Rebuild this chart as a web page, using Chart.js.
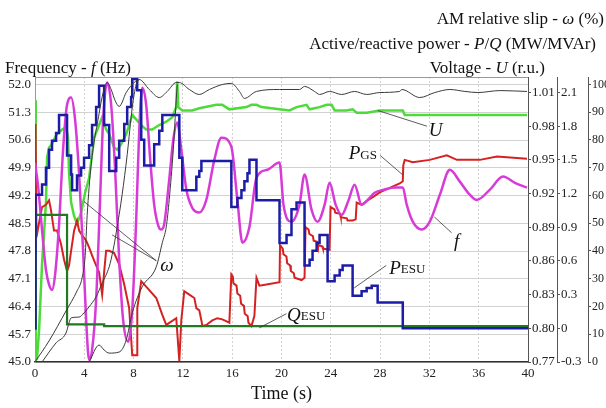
<!DOCTYPE html>
<html>
<head>
<meta charset="utf-8">
<script src="https://cdn.jsdelivr.net/npm/chart.js@4.4.1/dist/chart.umd.min.js"></script>
<style>
  html, body { margin: 0; padding: 0; background: #fff; }
  #wrap { width: 606px; height: 408px; }
</style>
</head>
<body>
<div id="wrap"><canvas id="chart" width="606" height="408"></canvas></div>
<script>
// tick labels
const timeTicks = [0, 4, 8, 12, 16, 20, 24, 28, 32, 36, 40];
const freqTicks = [45.0, 45.7, 46.4, 47.1, 47.8, 48.5, 49.2, 49.9, 50.6, 51.3, 52.0];
const voltTicks = [0.77, 0.80, 0.83, 0.86, 0.89, 0.92, 0.95, 0.98, 1.01];
const pqTicks = [-0.3, 0, 0.3, 0.6, 0.9, 1.2, 1.5, 1.8, 2.1];
const slipTicks = [0, 10, 20, 30, 40, 50, 60, 70, 80, 90, 100];

// frequency f (Hz)
const fTime = [0, 0.24, 0.57, 0.89, 1.14, 1.38, 1.63, 1.95, 2.28, 2.60, 2.93, 3.25, 3.58, 3.90, 4.15, 4.39, 4.63, 4.96, 5.28, 5.53,
  5.85, 6.18, 6.50, 6.83, 7.15, 7.56, 7.89, 8.21, 8.46, 8.70, 9.02, 9.35, 9.67, 10.0, 10.24, 10.49, 10.89, 11.22, 11.54, 11.87,
  12.28, 12.76, 13.33, 13.90, 14.55, 15.12, 15.93, 16.42, 16.83, 17.40, 17.97, 18.86, 19.84, 20.16, 20.81, 21.46, 21.87, 22.44, 22.93, 23.50,
  23.90, 24.39, 24.88, 25.45, 25.93, 26.50, 26.99, 27.56, 28.37, 29.19, 29.84, 30.16, 30.65, 31.38, 32.03, 32.85, 33.66, 34.47, 35.28, 35.85,
  36.91, 37.97, 38.94, 39.92];
const fHz = [50.03, 49.47, 48.34, 47.32, 46.95, 46.82, 47.20, 48.46, 50.36, 51.49, 51.67, 51.12, 49.73, 47.83, 46.06, 45.05, 45.30, 46.57, 49.09, 51.12,
  52.05, 51.49, 49.85, 47.58, 46.06, 45.51, 46.31, 48.59, 50.86, 51.92, 51.49, 50.10, 48.97, 48.44, 48.34, 48.49, 49.60, 50.61, 51.04, 50.36,
  49.35, 48.89, 48.77, 49.09, 50.10, 50.66, 50.43, 49.09, 48.01, 48.41, 49.65, 49.85, 50.03, 48.97, 48.54, 48.97, 49.73, 48.84, 48.54, 48.97,
  49.52, 48.97, 48.71, 49.09, 49.47, 48.97, 49.09, 49.27, 49.35, 49.40, 49.40, 48.97, 48.54, 48.34, 48.54, 49.22, 49.85, 49.55, 49.22, 49.09,
  49.35, 49.68, 49.52, 49.40];

// voltage U (r.u.)
const uTime = [0, 0.04, 0.08, 0.16, 0.33, 0.57, 0.89, 0.98, 1.14, 1.30, 1.54, 1.79, 2.20, 2.52, 2.68, 2.76, 2.93, 3.17, 3.41, 3.74,
  4.07, 4.39, 4.80, 5.20, 5.45, 5.77, 6.02, 6.42, 6.67, 6.99, 7.40, 7.64, 7.89, 8.21, 8.62, 9.02, 9.51, 10.08, 10.65, 11.14,
  11.46, 11.54, 11.63, 11.95, 12.76, 13.33, 14.72, 15.20, 15.77, 17.15, 17.56, 17.97, 18.37, 19.84, 20.65, 21.22, 22.03, 22.28, 23.09, 23.66,
  24.07, 24.31, 25.28, 25.77, 26.10, 26.91, 27.97, 29.84, 30.0, 30.65, 39.92];
const uPu = [1.003, 1.003, 0.772, 0.773, 0.798, 0.857, 0.912, 0.952, 0.961, 0.963, 0.968, 0.973, 0.977, 0.979, 0.970, 0.939, 0.912, 0.900, 0.893, 0.903,
  0.921, 0.934, 0.970, 0.981, 0.988, 0.977, 0.973, 0.961, 0.959, 0.964, 0.973, 0.981, 0.990, 0.986, 0.981, 0.977, 0.977, 0.981, 0.984, 0.988,
  0.997, 1.020, 0.997, 0.994, 0.994, 0.996, 0.999, 0.999, 0.995, 0.997, 0.999, 0.999, 0.997, 0.995, 0.994, 0.997, 0.999, 0.995, 0.997, 0.999,
  0.999, 0.994, 0.994, 0.995, 0.992, 0.992, 0.994, 0.994, 0.990, 0.990, 0.990];

// active power of gas station P_GS (MW)
const pgsTime = [0, 0.04, 0.12, 0.33, 0.57, 0.89, 1.14, 1.30, 1.54, 1.79,
  1.95, 2.11, 2.36, 2.60, 2.76, 2.93, 3.17, 3.41, 3.58, 3.82,
  4.15, 4.39, 4.63, 4.88, 5.20, 5.45, 5.61, 5.77, 6.02, 6.42,
  6.83, 7.24, 7.64, 7.89, 8.29, 8.30, 8.62, 9.11, 9.84, 10.33,
  10.65, 11.46, 11.71, 11.87, 12.11, 12.52, 12.93, 13.09, 13.33, 13.50,
  13.58, 13.90, 14.39, 14.80, 15.20, 15.77,
  15.93, 16.05, 16.10, 16.35, 16.42, 16.65, 16.72, 16.95, 17.02, 17.25, 17.32, 17.56,
  17.80, 17.97, 18.21, 18.78, 19.84,
  19.88, 20.10, 20.16, 20.40, 20.46, 20.70, 20.76, 21.00, 21.06, 21.63, 21.87,
  21.95, 22.20, 22.26, 22.55, 22.61, 22.90, 22.96, 23.30, 23.36, 23.90,
  23.98, 24.30, 24.36, 24.75, 24.81, 25.30, 25.36, 25.77, 26.02,
  26.10, 26.5, 26.99, 27.56, 27.97, 28.78, 29.59, 29.84, 29.88,
  30.0, 30.65, 32.03, 33.41, 34.23, 36.10, 37.48, 39.92];
const pgsMW = [0.67, 1.82, 0.81, 0.94, 1.08, 1.10, 1.14, 1.05, 0.87, 0.87,
  0.81, 0.75, 0.61, 0.51, 0.56, 0.69, 0.87, 0.96, 0.87, 0.83,
  0.78, 0.72, 0.65, 0.58, 0.50, 0.30, 0.50, 0.69, 0.69, 0.67,
  0.57, 0.39, 0.18, -0.24, -0.24, 0.18, 0.42, 0.36, 0.27, 0.12,
  0.03, 0.09, -0.29, 0.07, 0.33, 0.30, 0.27, 0.18, 0.16, 0.07,
  0.02, 0.03, 0.07, 0.09, 0.08, 0.05,
  0.48, 0.46, 0.40, 0.38, 0.31, 0.29, 0.22, 0.20, 0.13, 0.11, 0.05, 0.02,
  0.11, 0.45, 0.38, 0.39, 0.41,
  0.74, 0.71, 0.66, 0.64, 0.58, 0.56, 0.51, 0.49, 0.45, 0.43, 0.45,
  0.90, 0.88, 0.84, 0.82, 0.78, 0.77, 0.74, 0.73, 0.71, 0.70,
  1.08, 1.06, 1.03, 1.02, 0.99, 0.98, 0.96, 0.96, 0.97,
  1.12, 1.10, 1.14, 1.18, 1.21, 1.25, 1.29, 1.31, 1.45,
  1.50, 1.48, 1.50, 1.54, 1.50, 1.50, 1.53, 1.51];

// active power of storage unit P_ESU (MW), each value holds from its time on
const pesuTime = [0, 0.04, 0.57, 0.89, 1.14, 1.38, 1.71, 1.95, 2.60, 2.93, 3.01, 3.41, 3.74, 3.98, 4.39, 4.63, 4.96, 5.20, 5.61, 6.02,
  6.59, 6.83, 7.24, 7.48, 7.80, 7.89, 8.29, 8.62, 8.86, 9.67, 10.08, 10.33, 11.71, 11.95, 13.09, 13.33, 13.50, 15.93, 16.42, 16.75,
  16.99, 17.24, 17.40, 17.97, 19.84, 20.41, 20.81, 21.22, 21.87, 22.28, 22.52, 22.85, 23.09, 23.74, 24.31, 24.72, 24.96, 25.77, 26.50, 26.91,
  27.32, 27.80, 29.84, 40];
const pesuMW = [0, 1.19, 1.28, 1.43, 1.59, 1.67, 1.74, 1.90, 1.54, 1.37, 1.23, 1.36, 1.43, 1.52, 1.63, 1.81, 1.97, 2.16, 1.81, 1.40,
  1.52, 1.67, 1.82, 1.97, 2.06, 2.22, 2.12, 1.68, 1.45, 1.64, 1.76, 1.90, 1.52, 1.23, 1.35, 1.40, 1.49, 1.08, 1.16, 1.23,
  1.31, 1.38, 1.50, 1.14, 0.76, 0.83, 1.06, 1.12, 0.56, 0.61, 0.69, 0.76, 0.83, 0.42, 0.47, 0.52, 0.56, 0.29, 0.33, 0.36,
  0.38, 0.23, 0, 0];

// reactive power of storage unit Q_ESU (MVAr)
const qesuTime = [0, 0.04, 2.60, 5.61, 40];
const qesuMVAr = [0, 1.01, 0.035, 0.02, 0.02];

// AM relative slip omega (%)
const w1Time = [0, 1.14, 2.52, 3.41, 3.82, 4.07, 4.23, 4.55, 5.20, 5.53, 5.85, 6.18, 6.50, 6.83, 7.40, 7.89, 8.46, 9.27, 10.08, 10.73,
  11.46, 11.71, 12.52, 13.33, 14.15, 15.2, 15.93, 16.59, 16.99, 17.97, 19.84, 21.46, 21.87, 22.68, 23.09, 23.90, 24.88, 25.93, 26.91, 27.97,
  29.59, 29.76, 31.22, 32.44, 33.66, 34.88, 35.93, 37.72, 39.92];
const w1Pct = [0, 7.6, 18.4, 25.6, 30.3, 38.3, 52.7, 70.8, 89.5, 97.1, 100.7, 98.2, 94.2, 92.1, 97.1, 100, 101.8, 98.2, 95.3, 97.5,
  100.7, 100.7, 98.2, 96.4, 98.2, 100, 100.4, 97.5, 95.0, 97.5, 98.2, 98.2, 99.3, 97.5, 96.4, 97.5, 96.4, 97.5, 96.4, 97.1,
  97.5, 98.2, 95.3, 97.1, 98.2, 97.5, 97.1, 97.8, 97.5];
const w2Time = [0.57, 1.71, 2.52, 2.76, 2.93, 3.58, 3.98, 4.39, 4.96, 5.45, 6.02, 6.34, 6.59, 7.07, 7.48, 7.89, 8.21, 8.46];
const w2Pct = [0, 6.9, 10.5, 14.1, 15.9, 16.2, 17.7, 19.9, 23.5, 28.5, 34.3, 40.4, 46.6, 60.3, 74.7, 91.7, 100, 101.8];
const w3Time = [4.39, 5.20, 5.61, 6.02, 6.83, 7.40, 7.89, 8.70, 9.84, 10.33, 10.65, 10.89, 11.22, 11.46, 11.54];
const w3Pct = [0, 6.1, 4.3, 3.2, 3.6, 7.9, 17.7, 27.1, 34.3, 43.0, 48.7, 58.5, 76.5, 94.6, 100];

const SERIF = '"Liberation Serif", "Times New Roman", serif';
const pts = (ts, vs) => ts.map((t, i) => ({ x: t, y: vs[i] }));

// write a line of text made of differently styled pieces
function drawRuns(ctx, parts, x, y, align) {
  let w = 0;
  parts.forEach(p => { ctx.font = p[1]; w += ctx.measureText(p[0]).width; });
  let cx = align === 'right' ? x - w : align === 'center' ? x - w / 2 : x;
  parts.forEach(p => {
    ctx.font = p[1];
    ctx.fillText(p[0], cx, y + (p[2] || 0));
    cx += ctx.measureText(p[0]).width;
  });
}

const T = `17px ${SERIF}`, TI = `italic 17px ${SERIF}`;
const L = `italic 19px ${SERIF}`, LS = `13px ${SERIF}`;

// leader lines and curve names, placed in data units
const leaders = [
  { axis: 'yS', from: [9.84, 36.5], to: [3.98, 57.8] },
  { axis: 'yS', from: [9.84, 36.5], to: [6.26, 45.8] },
  { axis: 'yU', from: [31.8, 0.980], to: [27.8, 0.994] },
  { axis: 'yP', from: [28.0, 1.54], to: [29.8, 1.37] },
  { axis: 'yF', from: [33.8, 48.26], to: [32.4, 48.66] },
  { axis: 'yP', from: [28.5, 0.56], to: [25.9, 0.36] },
  { axis: 'yP', from: [20.4, 0.13], to: [18.2, 0.004] }
];
const names = [
  { axis: 'yS', at: [10.7, 34.7], parts: [['ω', L]] },
  { axis: 'yU', at: [32.5, 0.976], parts: [['U', L]] },
  { axis: 'yP', at: [26.6, 1.548], parts: [['P', L], ['GS', LS, 1]] },
  { axis: 'yF', at: [34.2, 48.03], parts: [['f', L]] },
  { axis: 'yP', at: [30.2, 0.53], parts: [['P', L], ['ESU', LS, 1]] },
  { axis: 'yP', at: [22.0, 0.11], parts: [['Q', L], ['ESU', LS, 1]] }
];

const annotate = {
  id: 'annotate',
  afterDatasetsDraw(chart) {
    const { ctx, chartArea: a, scales } = chart;
    const xs = scales.x;
    ctx.save();
    ctx.strokeStyle = '#999';
    ctx.lineWidth = 1;
    ctx.beginPath();
    ctx.moveTo(a.left, a.top + 0.5);
    ctx.lineTo(a.right, a.top + 0.5);
    ctx.stroke();

    ctx.strokeStyle = '#333';
    ctx.lineWidth = 0.8;
    leaders.forEach(l => {
      const ys = scales[l.axis];
      ctx.beginPath();
      ctx.moveTo(xs.getPixelForValue(l.from[0]), ys.getPixelForValue(l.from[1]));
      ctx.lineTo(xs.getPixelForValue(l.to[0]), ys.getPixelForValue(l.to[1]));
      ctx.stroke();
    });
    ctx.fillStyle = '#111';
    ctx.textBaseline = 'middle';
    names.forEach(n => {
      drawRuns(ctx, n.parts, xs.getPixelForValue(n.at[0]), scales[n.axis].getPixelForValue(n.at[1]), 'center');
    });
    ctx.restore();
  },
  afterDraw(chart) {
    const { ctx } = chart;
    ctx.save();
    ctx.fillStyle = '#111';
    ctx.textBaseline = 'alphabetic';
    drawRuns(ctx, [['AM relative slip - ', T], ['ω', TI], [' (%)', T]], 604, 24, 'right');
    drawRuns(ctx, [['Active/reactive power - ', T], ['P', TI], ['/', T], ['Q', TI], [' (MW/MVAr)', T]], 596, 49, 'right');
    drawRuns(ctx, [['Voltage - ', T], ['U', TI], [' (r.u.)', T]], 545, 73, 'right');
    drawRuns(ctx, [['Frequency - ', T], ['f', TI], [' (Hz)', T]], 5, 73, 'left');
    ctx.restore();
  }
};

const tickFont = { family: SERIF, size: 13 };
const rightAxis = (min, max, list, weight, width, fmt, size) => ({
  type: 'linear', position: 'right', min, max, weight,
  afterBuildTicks: s => { s.ticks = list.map(v => ({ value: v })); },
  afterFit: s => { s.width = width; },
  grid: { drawOnChartArea: false, drawTicks: true, tickLength: 3, color: '#555' },
  border: { display: true, color: '#555' },
  ticks: { font: { family: SERIF, size: size || 13 }, color: '#222', padding: 1, callback: fmt }
});

const line = (label, data, axis, color, width, extra) => Object.assign({
  label, data, yAxisID: axis, borderColor: color, borderWidth: width,
  pointRadius: 0, fill: false, tension: 0
}, extra || {});

new Chart(document.getElementById('chart'), {
  type: 'line',
  data: {
    datasets: [
      line('ω1', pts(w1Time, w1Pct), 'yS', '#3a3a3a', 1, { cubicInterpolationMode: 'monotone', order: 1 }),
      line('ω2', pts(w2Time, w2Pct), 'yS', '#3a3a3a', 1, { cubicInterpolationMode: 'monotone', order: 1 }),
      line('ω3', pts(w3Time, w3Pct), 'yS', '#3a3a3a', 1, { cubicInterpolationMode: 'monotone', order: 1 }),
      line('P ESU', pts(pesuTime, pesuMW), 'yP', '#1c1ca6', 2.5, { stepped: true, order: 2 }),
      line('Q ESU', pts(qesuTime, qesuMVAr), 'yP', '#217a21', 2.2, { stepped: true, order: 3 }),
      line('f', pts(fTime, fHz), 'yF', '#d83ad8', 2.5, { cubicInterpolationMode: 'monotone', order: 4 }),
      line('P GS', pts(pgsTime, pgsMW), 'yP', '#d42222', 2, { order: 5 }),
      line('U', pts(uTime, uPu), 'yU', '#4ddb3a', 2.5, { order: 6 })
    ]
  },
  options: {
    responsive: false,
    animation: false,
    devicePixelRatio: 1,
    layout: { padding: { top: 77, left: 0, right: 0, bottom: 0 } },
    plugins: { legend: { display: false }, tooltip: { enabled: false } },
    scales: {
      x: {
        type: 'linear', min: 0, max: 40,
        afterBuildTicks: s => { s.ticks = timeTicks.map(v => ({ value: v })); },
        afterFit: s => { s.height = 46; },
        grid: { color: '#d2d2d2', drawTicks: false },
        border: { color: '#333', dash: [2, 2], width: 1.5 },
        ticks: { font: tickFont, color: '#222', padding: 4, maxRotation: 0 },
        title: { display: true, text: 'Time (s)', font: { family: SERIF, size: 18 }, color: '#111', padding: { top: 0, bottom: 3 } }
      },
      yF: {
        type: 'linear', position: 'left', min: 45, max: 52.19,
        afterBuildTicks: s => { s.ticks = freqTicks.map(v => ({ value: v })); },
        afterFit: s => { s.width = 35; },
        grid: { color: '#d2d2d2', drawTicks: false },
        border: { color: '#999' },
        ticks: { font: tickFont, color: '#222', padding: 4, callback: v => v.toFixed(1) }
      },
      yU: rightAxis(0.77, 1.0238, voltTicks, 1, 29, v => v.toFixed(2)),
      yP: rightAxis(-0.3, 2.238, pqTicks, 2, 31, v => (Math.abs(v) < 1e-9 ? '0' : v.toFixed(1))),
      yS: rightAxis(0, 102.7, slipTicks, 3, 18, v => String(v), 12)
    }
  },
  plugins: [annotate]
});
</script>
</body>
</html>
